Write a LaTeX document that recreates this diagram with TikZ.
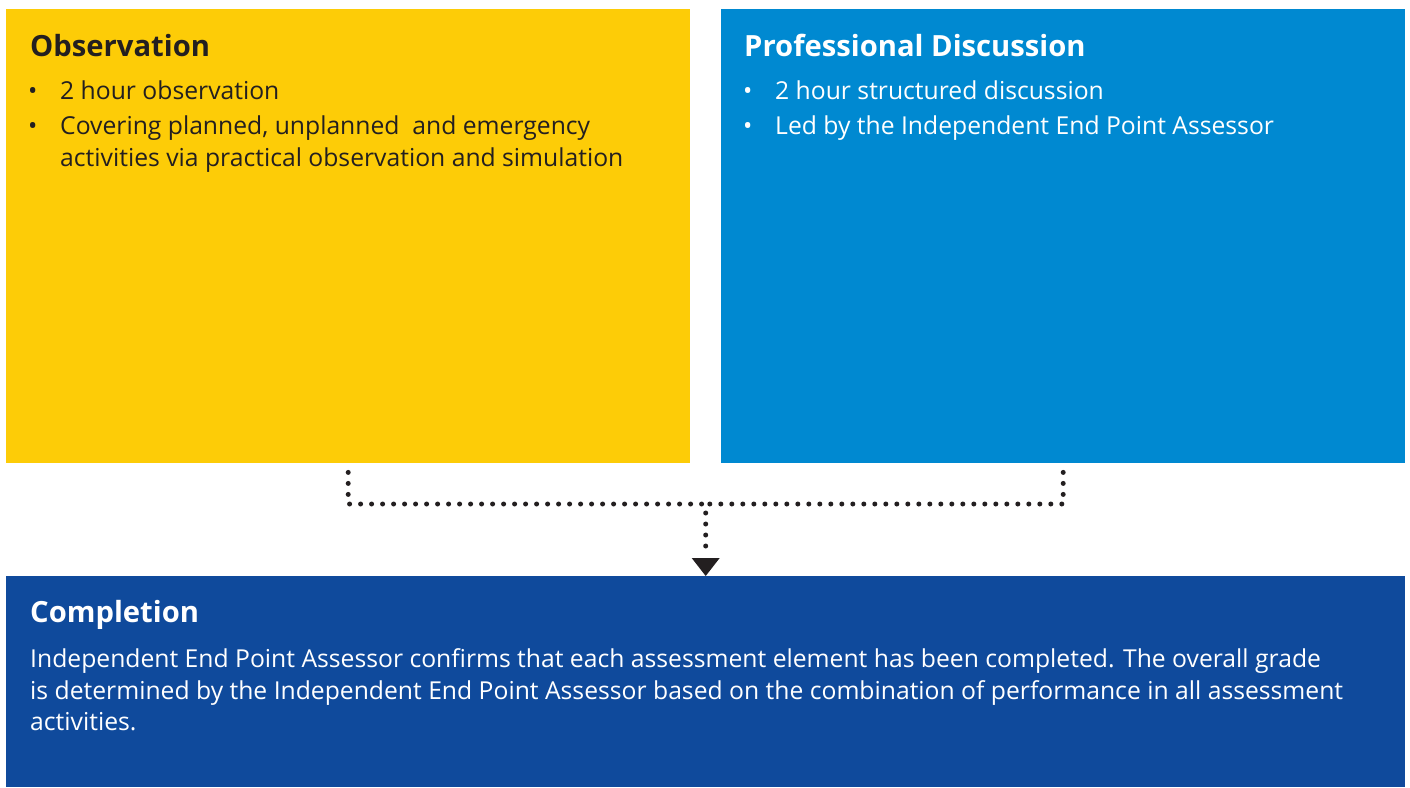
\documentclass[tikz,border=0pt]{standalone}
\usepackage{fontspec}
\setmainfont{Open Sans}
\usepackage{xcolor}
\usetikzlibrary{arrows.meta,positioning}
\definecolor{obsyellow}{HTML}{FDCC07}
\definecolor{discblue}{HTML}{0089D1}
\definecolor{complblue}{HTML}{0F4A9C}
\definecolor{inkdark}{HTML}{231F20}
\tikzset{%
  panel/.style={
    draw=none,
    anchor=north west,
    inner sep=0pt
  },
  headtext/.style={
    anchor=base west,
    inner sep=0pt,
    font=\fontsize{29.2}{34}\selectfont\bfseries
  },
  bodytext/.style={
    anchor=base west,
    inner sep=0pt,
    font=\fontsize{24.7}{32}\selectfont
  },
  dotline/.style={
    line width=5pt,
    line cap=round,
    dash pattern=on 0pt off 11pt,
    inkdark
  },
}

\begin{document}
\begin{tikzpicture}[x=1pt, y=-1pt]
\useasboundingbox (0,0) rectangle (1410,787);

% the three panels
\node [panel, fill=obsyellow, minimum width=684pt, minimum height=454pt] (obs) at (6,9) {};
\node [panel, fill=discblue, minimum width=684pt, minimum height=454pt] (disc) at (721,9) {};
\node [panel, fill=complblue, minimum width=1399pt, minimum height=211pt] (compl) at (6,576) {};

% observation
\node [headtext, text=inkdark] (obs-title) at (30,56) {Observation};
\foreach \yy [count=\i] in {99,134}
  \node [bodytext, text=inkdark] (obs-bullet-\i) at (28,\yy) {\textbullet};
\foreach \t/\yy [count=\i] in {2 hour observation/99,
    {Covering planned, unplanned\ \ and emergency}/134,
    activities via practical observation and simulation/166}
  \node [bodytext, text=inkdark] (obs-line-\i) at (60,\yy) {\t};

% professional discussion
\node [headtext, text=white] (disc-title) at (744,56) {Professional Discussion};
\foreach \yy [count=\i] in {99,134}
  \node [bodytext, text=white] (disc-bullet-\i) at (743,\yy) {\textbullet};
\foreach \t/\yy [count=\i] in {2 hour structured discussion/99,
    Led by the Independent End Point Assessor/134}
  \node [bodytext, text=white] (disc-line-\i) at (775,\yy) {\t};

% completion
\node [headtext, text=white] (compl-title) at (30,622) {Completion};
\foreach \t/\yy [count=\i] in {%
    {Independent End Point Assessor confirms that each assessment element has been completed. The overall grade}/667,
    {is determined by the Independent End Point Assessor based on the combination of performance in all assessment}/699,
    activities./730}
  \node [bodytext, text=white] (compl-line-\i) at (30,\yy) {\t};

% dotted connectors
\coordinate (join) at (compl.north |- 0,504);
\draw [dotline] ([yshift=-9pt]obs.south) |- (join);
\draw [dotline] ([yshift=-9pt]disc.south) |- (join);
\draw [dotline] ([yshift=-9pt]join) -- ([yshift=29pt]compl.north);
\draw [draw=none, fill=inkdark] (compl.north) -- ++(-14,-18) -- ++(28,0) -- cycle;

\end{tikzpicture}
\end{document}
